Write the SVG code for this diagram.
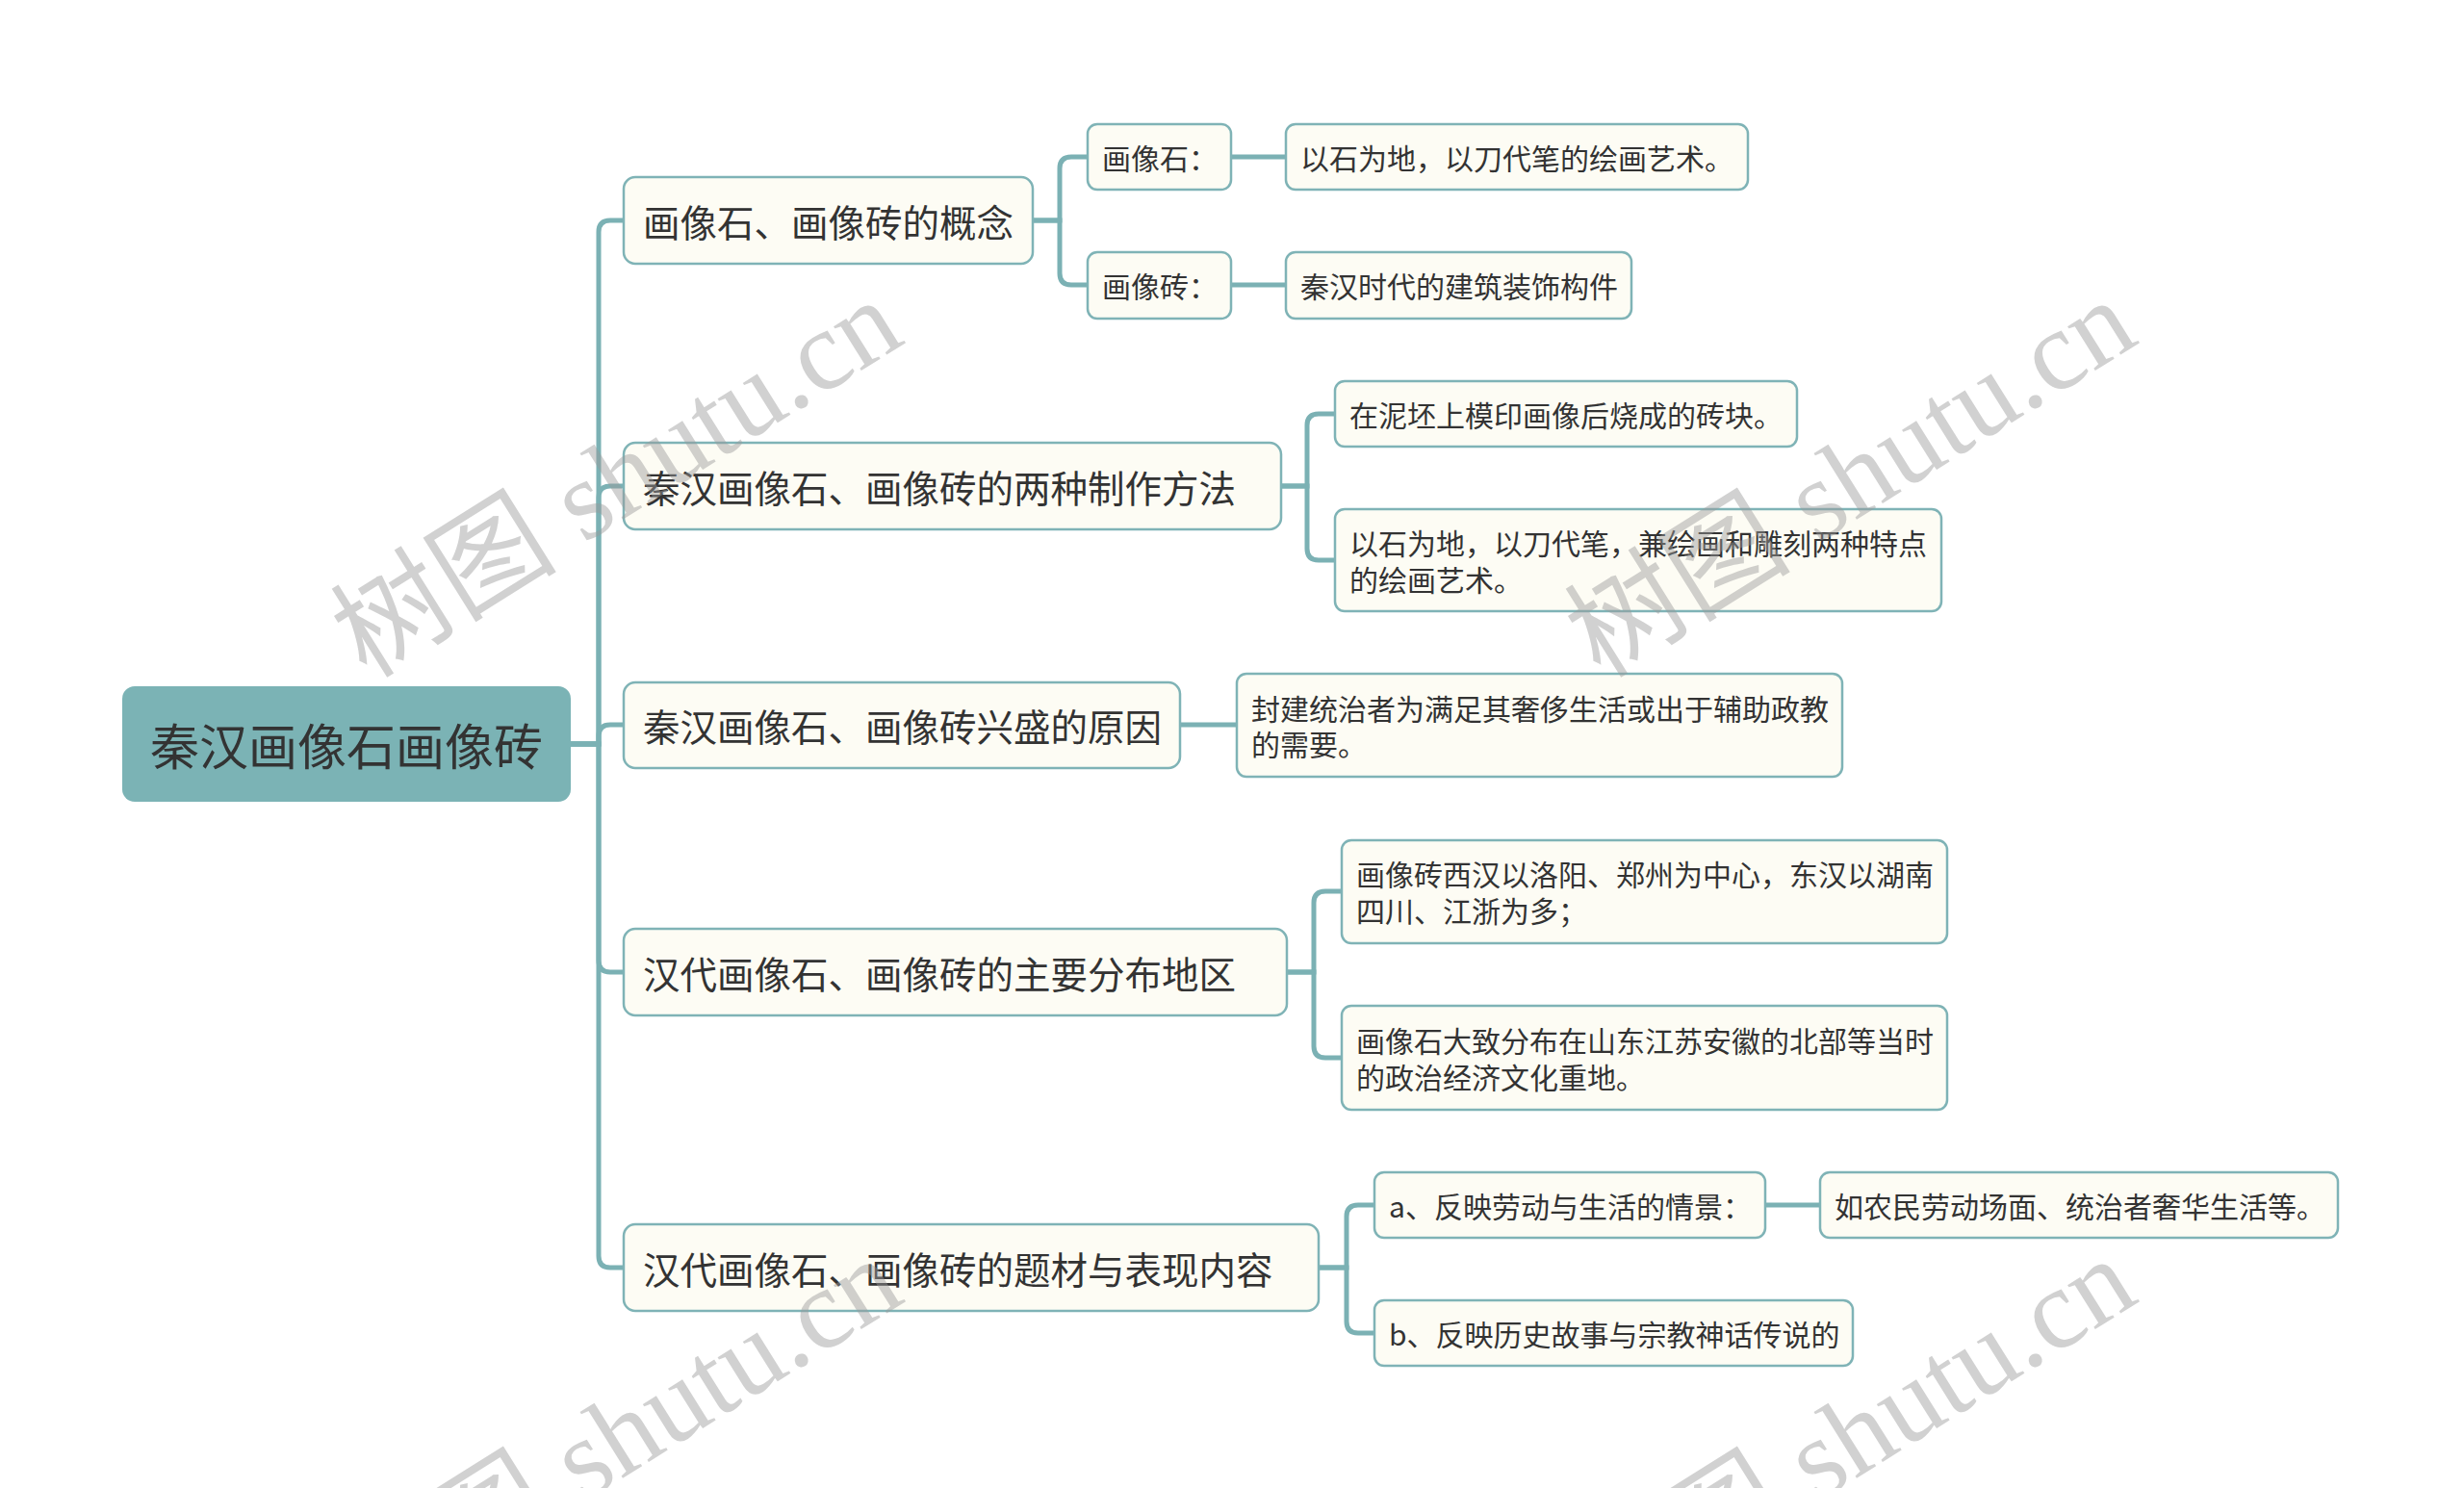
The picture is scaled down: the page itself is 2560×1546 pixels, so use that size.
<svg xmlns="http://www.w3.org/2000/svg" width="2560" height="1546" viewBox="0 0 2560 1546">
<style>
.bg{fill:#ffffff}
.root{fill:#7bb3b5}
.box{fill:#fdfcf4;stroke:#7fb3b6;stroke-width:2.5}
.edge{fill:none;stroke:#7bb1b4;stroke-width:5;stroke-linecap:round}
.t{font-family:"Noto Sans CJK SC","Noto Sans",sans-serif;fill:#333333}
.t0{font-size:51px}
.t1{font-size:38.5px}
.t2{font-size:30px}
.wm{font-family:"Liberation Serif","Noto Sans CJK SC",serif;font-size:118px;fill:#9a9a9a;opacity:0.45}
</style>
<rect class="bg" x="0" y="0" width="2560" height="1546"/>
<g id="connectors">
<path class="edge" d="M593 773 H622 V241 Q622 229 634 229 H648"/>
<path class="edge" d="M593 773 H622 V517 Q622 505 634 505 H648"/>
<path class="edge" d="M593 773 H622 V765 Q622 753 634 753 H648"/>
<path class="edge" d="M593 773 H622 V998 Q622 1010 634 1010 H648"/>
<path class="edge" d="M593 773 H622 V1305 Q622 1317 634 1317 H648"/>
<path class="edge" d="M1073 229 H1101 V175 Q1101 163 1113 163 H1130"/>
<path class="edge" d="M1073 229 H1101 V284 Q1101 296 1113 296 H1130"/>
<path class="edge" d="M1279 163 H1336"/>
<path class="edge" d="M1279 296 H1336"/>
<path class="edge" d="M1331 505 H1358 V442 Q1358 430 1370 430 H1387"/>
<path class="edge" d="M1331 505 H1358 V570 Q1358 582 1370 582 H1387"/>
<path class="edge" d="M1226 753 H1285"/>
<path class="edge" d="M1337 1010 H1365 V938 Q1365 926 1377 926 H1394"/>
<path class="edge" d="M1337 1010 H1365 V1087 Q1365 1099 1377 1099 H1394"/>
<path class="edge" d="M1370 1317 H1399 V1264 Q1399 1252 1411 1252 H1428"/>
<path class="edge" d="M1370 1317 H1399 V1373 Q1399 1385 1411 1385 H1428"/>
<path class="edge" d="M1834 1252 H1891"/>
</g>
<g id="root">
<rect class="root" x="127" y="713" width="466" height="120" rx="13"/>
<text class="t t0" x="360" y="773" text-anchor="middle" dominant-baseline="central">秦汉画像石画像砖</text>
</g>
<g id="n1">
<rect class="box" x="648" y="184" width="425" height="90" rx="12"/>
<text class="t t1" x="668" y="229" dominant-baseline="central">画像石、画像砖的概念</text>
</g>
<g id="n1a">
<rect class="box" x="1130" y="129" width="149" height="68" rx="10"/>
<text class="t t2" x="1145" y="163" dominant-baseline="central">画像石：</text>
</g>
<g id="n1a1">
<rect class="box" x="1336" y="129" width="480" height="68" rx="10"/>
<text class="t t2" x="1351" y="163" dominant-baseline="central">以石为地，以刀代笔的绘画艺术。</text>
</g>
<g id="n1b">
<rect class="box" x="1130" y="262" width="149" height="69" rx="10"/>
<text class="t t2" x="1145" y="296" dominant-baseline="central">画像砖：</text>
</g>
<g id="n1b1">
<rect class="box" x="1336" y="262" width="359" height="69" rx="10"/>
<text class="t t2" x="1351" y="296" dominant-baseline="central">秦汉时代的建筑装饰构件</text>
</g>
<g id="n2">
<rect class="box" x="648" y="460" width="683" height="90" rx="12"/>
<text class="t t1" x="668" y="505" dominant-baseline="central">秦汉画像石、画像砖的两种制作方法</text>
</g>
<g id="n2a">
<rect class="box" x="1387" y="396" width="480" height="68" rx="10"/>
<text class="t t2" x="1402" y="430" dominant-baseline="central">在泥坯上模印画像后烧成的砖块。</text>
</g>
<g id="n2b">
<rect class="box" x="1387" y="529" width="630" height="106" rx="10"/>
<text class="t t2" x="1402" y="563" dominant-baseline="central">以石为地，以刀代笔，兼绘画和雕刻两种特点</text>
<text class="t t2" x="1402" y="601" dominant-baseline="central">的绘画艺术。</text>
</g>
<g id="n3">
<rect class="box" x="648" y="709" width="578" height="89" rx="12"/>
<text class="t t1" x="668" y="753" dominant-baseline="central">秦汉画像石、画像砖兴盛的原因</text>
</g>
<g id="n3a">
<rect class="box" x="1285" y="700" width="629" height="107" rx="10"/>
<text class="t t2" x="1300" y="735" dominant-baseline="central">封建统治者为满足其奢侈生活或出于辅助政教</text>
<text class="t t2" x="1300" y="772" dominant-baseline="central">的需要。</text>
</g>
<g id="n4">
<rect class="box" x="648" y="965" width="689" height="90" rx="12"/>
<text class="t t1" x="668" y="1010" dominant-baseline="central">汉代画像石、画像砖的主要分布地区</text>
</g>
<g id="n4a">
<rect class="box" x="1394" y="873" width="629" height="107" rx="10"/>
<text class="t t2" x="1409" y="907" dominant-baseline="central">画像砖西汉以洛阳、郑州为中心，东汉以湖南</text>
<text class="t t2" x="1409" y="945" dominant-baseline="central">四川、江浙为多；</text>
</g>
<g id="n4b">
<rect class="box" x="1394" y="1045" width="629" height="108" rx="10"/>
<text class="t t2" x="1409" y="1080" dominant-baseline="central">画像石大致分布在山东江苏安徽的北部等当时</text>
<text class="t t2" x="1409" y="1118" dominant-baseline="central">的政治经济文化重地。</text>
</g>
<g id="n5">
<rect class="box" x="648" y="1272" width="722" height="90" rx="12"/>
<text class="t t1" x="668" y="1317" dominant-baseline="central">汉代画像石、画像砖的题材与表现内容</text>
</g>
<g id="n5a">
<rect class="box" x="1428" y="1218" width="406" height="68" rx="10"/>
<text class="t t2" x="1443" y="1252" dominant-baseline="central">a、反映劳动与生活的情景：</text>
</g>
<g id="n5a1">
<rect class="box" x="1891" y="1218" width="538" height="68" rx="10"/>
<text class="t t2" x="1906" y="1252" dominant-baseline="central">如农民劳动场面、统治者奢华生活等。</text>
</g>
<g id="n5b">
<rect class="box" x="1428" y="1351" width="497" height="68" rx="10"/>
<text class="t t2" x="1443" y="1385" dominant-baseline="central">b、反映历史故事与宗教神话传说的</text>
</g>
<g id="watermarks">
<text class="wm" transform="translate(381 706) rotate(-32)">树图 shutu.cn</text>
<text class="wm" transform="translate(1663 706) rotate(-32)">树图 shutu.cn</text>
<text class="wm" transform="translate(381 1702) rotate(-32)">树图 shutu.cn</text>
<text class="wm" transform="translate(1663 1702) rotate(-32)">树图 shutu.cn</text>
</g>
</svg>
